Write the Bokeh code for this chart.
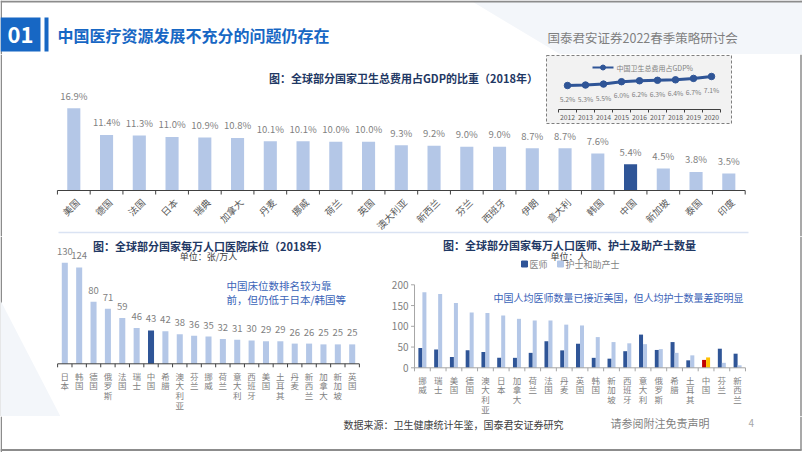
import numpy as np
from math import pi
from bokeh.plotting import figure
from bokeh.models import Range1d
from bokeh.layouts import column, row
from bokeh.core.properties import value
from bokeh.embed import file_html
from bokeh.resources import INLINE

# ---------------- data ----------------
gdp_countries = ["美国", "德国", "法国", "日本", "瑞典", "加拿大", "丹麦", "挪威", "荷兰", "英国",
                 "澳大利亚", "新西兰", "芬兰", "西班牙", "伊朗", "意大利", "韩国", "中国", "新加坡", "泰国", "印度"]
gdp_share = [16.9, 11.4, 11.3, 11.0, 10.9, 10.8, 10.1, 10.1, 10.0, 10.0,
             9.3, 9.2, 9.0, 9.0, 8.7, 8.7, 7.6, 5.4, 4.5, 3.8, 3.5]

cn_years = [2012, 2013, 2014, 2015, 2016, 2017, 2018, 2019, 2020]
cn_gdp_share = [5.2, 5.3, 5.5, 6.0, 6.2, 6.3, 6.4, 6.7, 7.1]

bed_countries = ["日本", "韩国", "德国", "俄罗斯", "法国", "瑞士", "中国", "希腊", "澳大利亚", "芬兰", "挪威",
                 "荷兰", "意大利", "西班牙", "美国", "土耳其", "丹麦", "新西兰", "加拿大", "新加坡", "英国"]
beds_per_10k = [130, 124, 80, 71, 59, 46, 43, 42, 38, 36, 35, 32, 31, 30, 29, 29, 26, 26, 25, 25, 25]

staff_countries = ["挪威", "瑞士", "美国", "德国", "澳大利亚", "日本", "加拿大", "荷兰", "法国", "丹麦", "英国",
                   "韩国", "新加坡", "西班牙", "意大利", "俄罗斯", "希腊", "土耳其", "中国", "芬兰", "新西兰"]
doctors_per_10k = [48, 44, 26, 42, 38, 24, 24, 36, 64, 42, 58, 24, 22, 40, 80, 43, 62, 18, 19, 46, 34]
nurses_per_10k = [182, 178, 156, 133, 132, 126, 118, 114, 114, 104, 102, 74, 62, 59, 57, 45, 36, 30, 25, 12, 6]
staff_ticks = [0, 50, 100, 150, 200]

# ---------------- styles ----------------
FONT = value("Noto Sans CJK SC")
LIGHT = "#B4C7E7"
DARK = "#2F5597"
NAVY = "#1F3864"
GRAY = "#7F7F7F"
AXIS = "#595959"
NOTE = "#3B64B8"
HBLUE = "#1767C4"
FRAME = "#8C8C8C"
PAGE_W, PAGE_H = 802, 452


def mk(X0, Y0, W, H, xr=None, yr=None, extra_x=None, extra_y=None):
    if xr is None:
        xr = Range1d(X0, X0 + W)
    if yr is None:
        yr = Range1d(Y0 + H, Y0)
    p = figure(width=W, height=H, x_range=xr, y_range=yr, output_backend="svg",
               toolbar_location=None, x_axis_location=None, y_axis_location=None,
               min_border=0)
    ex = {"px": Range1d(X0, X0 + W)}
    ey = {"py": Range1d(Y0 + H, Y0)}
    if extra_x:
        ex.update(extra_x)
    if extra_y:
        ey.update(extra_y)
    p.extra_x_ranges = ex
    p.extra_y_ranges = ey
    p.outline_line_color = None
    p.background_fill_color = "white"
    p.border_fill_color = "white"
    p.xgrid.visible = False
    p.ygrid.visible = False
    # slide frame: left / right edges
    if X0 == 0:
        p.segment(x0=[0.75], y0=[Y0], x1=[0.75], y1=[Y0 + H], line_color=FRAME, line_width=1.5,
                  x_range_name="px", y_range_name="py")
    if X0 + W == PAGE_W:
        p.segment(x0=[800.5], y0=[Y0], x1=[800.5], y1=[min(Y0 + H, 450)], line_color=FRAME,
                  line_width=1.5, x_range_name="px", y_range_name="py")
    return p


def txt(p, x, y, t, size, color, bold=False, align="left", baseline="middle", angle=0,
        xr="px", yr="py", lh=1.2):
    if not isinstance(x, (list, np.ndarray)):
        x, y, t = [x], [y], [t]
    kw = {}
    if xr != "default":
        kw["x_range_name"] = xr
    if yr != "default":
        kw["y_range_name"] = yr
    p.text(x=list(x), y=list(y), text=list(t), text_font=FONT, text_font_size=size,
           text_color=color, text_font_style="bold" if bold else "normal",
           text_align=align, text_baseline=baseline, angle=angle, text_line_height=lh, **kw)


def cat_range(X0, W, first_px, step_px):
    a = -(first_px - X0) / step_px
    return Range1d(a, a + W / step_px)


def val_range(Y0, H, base_px, k):
    lo = -(Y0 + H - base_px) / k
    return Range1d(lo, lo + H / k)


# ---------------- header ----------------
hdr = mk(0, 0, PAGE_W, 54)
hdr.patch(x=[470, 802, 802, 560], y=[0, 0, 54, 54], fill_color="#F3F6FA", line_color=None,
          x_range_name="px", y_range_name="py")
hdr.segment(x0=[0], y0=[1], x1=[PAGE_W], y1=[1], line_color=FRAME, line_width=2,
            x_range_name="px", y_range_name="py")
hdr.quad(left=[0], right=[40], top=[17], bottom=[51], fill_color=HBLUE, line_color=None,
         x_range_name="px", y_range_name="py")
hdr.quad(left=[44], right=[48], top=[17], bottom=[51], fill_color=HBLUE, line_color=None,
         x_range_name="px", y_range_name="py")
txt(hdr, 20, 34, "01", "22px", "white", bold=True, align="center")
txt(hdr, 57, 34.5, "中国医疗资源发展不充分的问题仍存在", "16px", HBLUE, bold=True)
txt(hdr, 547, 37, "国泰君安证券2022春季策略研讨会", "12.5px", GRAY)

# ---------------- top chart ----------------
X0, Y0, W, H = 0, 54, PAGE_W, 182
n1 = len(gdp_countries)
k1 = 4.87
yr_step = 18.0
inset_k = 4.74
ia = cn_years[0] - (567 - X0) / yr_step
ilo = 5.0 - (Y0 + H - 85.95) / inset_k
top = mk(X0, Y0, W, H, xr=cat_range(X0, W, 73.3, 32.75), yr=val_range(Y0, H, 190, k1),
         extra_x={"ix": Range1d(ia, ia + W / yr_step)},
         extra_y={"iy": Range1d(ilo, ilo + H / inset_k)})
idx1 = list(range(n1))
cols1 = [DARK if c == "中国" else LIGHT for c in gdp_countries]
top.vbar(x=idx1, top=gdp_share, width=0.4, fill_color=cols1, line_color=None)
txt(top, idx1, [v + 12.5 / k1 for v in gdp_share], [f"{v:.1f}%" for v in gdp_share],
    "9.5px", GRAY, align="center", xr="default", yr="default")
txt(top, [i + 0.12 for i in idx1], [-10 / k1] * n1, gdp_countries, "9.5px", AXIS,
    align="right", angle=pi / 4, xr="default", yr="default")
edges1 = list(np.arange(n1 + 1) - 0.5)
top.segment(x0=[-0.5], y0=[0], x1=[n1 - 0.5], y1=[0], line_color="#404040", line_width=1)
top.segment(x0=edges1, y0=[0] * len(edges1), x1=edges1, y1=[-4 / k1] * len(edges1),
            line_color="#404040", line_width=1)
txt(top, 403, 77, "图：全球部分国家卫生总费用占GDP的比重（2018年）", "11px", NAVY, bold=True, align="center")
top.segment(x0=[58], y0=[232], x1=[748], y1=[232], line_color="#DAE3F3", line_width=1.5,
            x_range_name="px", y_range_name="py")

# inset
top.quad(left=[546], right=[731], top=[55], bottom=[123], fill_color="#F2F2F2",
         line_color="#7F7F7F", line_dash="3 2", line_width=1, x_range_name="px", y_range_name="py")
top.line(x=[592, 613], y=[67, 67], line_color=DARK, line_width=2, x_range_name="px", y_range_name="py")
top.scatter(x=[602.5], y=[67], size=5, color=DARK, x_range_name="px", y_range_name="py")
txt(top, 616, 67, "中国卫生总费用占GDP%", "7px", GRAY)
top.line(x=cn_years, y=cn_gdp_share, line_color=DARK, line_width=3,
         x_range_name="ix", y_range_name="iy")
top.scatter(x=cn_years, y=cn_gdp_share, size=6.5, color=DARK, x_range_name="ix", y_range_name="iy")
txt(top, cn_years, [v - 13.5 / inset_k for v in cn_gdp_share], [f"{v:.1f}%" for v in cn_gdp_share],
    "6.8px", GRAY, align="center", xr="ix", yr="iy")
yedges = [y - 0.5 for y in cn_years] + [cn_years[-1] + 0.5]
top.segment(x0=[yedges[0]], y0=[109], x1=[yedges[-1]], y1=[109], line_color="#404040",
            x_range_name="ix", y_range_name="py")
top.segment(x0=yedges, y0=[109] * len(yedges), x1=yedges, y1=[112] * len(yedges),
            line_color="#404040", x_range_name="ix", y_range_name="py")
txt(top, cn_years, [117] * len(cn_years), [str(y) for y in cn_years], "6.8px", AXIS,
    align="center", xr="ix", yr="py")

# ---------------- bottom-left: beds ----------------
X0, Y0, W, H = 0, 236, 378, 180
n2 = len(bed_countries)
k2 = 0.777
bl = mk(X0, Y0, W, H, xr=cat_range(X0, W, 64.3, 14.37), yr=val_range(Y0, H, 363.3, k2))
bl.patch(x=[0, 60, 0], y=[300, 416, 416], fill_color="#F3F6FA", line_color=None,
         x_range_name="px", y_range_name="py")
idx2 = list(range(n2))
cols2 = [DARK if c == "中国" else LIGHT for c in bed_countries]
bl.vbar(x=idx2, top=beds_per_10k, width=0.42, fill_color=cols2, line_color=None)
txt(bl, idx2, [v + 11.5 / k2 for v in beds_per_10k], [str(v) for v in beds_per_10k],
    "9.5px", GRAY, align="center", xr="default", yr="default")
txt(bl, idx2, [-6 / k2] * n2, ["\n".join(c) for c in bed_countries], "8.5px", GRAY,
    align="center", baseline="top", xr="default", yr="default", lh=0.8)
edges2 = list(np.arange(n2 + 1) - 0.5)
bl.segment(x0=[-0.5], y0=[0], x1=[n2 - 0.5], y1=[0], line_color="#404040")
bl.segment(x0=edges2, y0=[0] * len(edges2), x1=edges2, y1=[-3.5 / k2] * len(edges2),
           line_color="#404040")
txt(bl, 210, 245, "图：全球部分国家每万人口医院床位（2018年）", "11px", NAVY, bold=True, align="center")
txt(bl, 208, 255.5, "单位：张/万人", "9px", "#404040", align="center")
txt(bl, 226, 285, "中国床位数排名较为靠", "10.5px", NOTE)
txt(bl, 226, 298.5, "前，但仍低于日本/韩国等", "10.5px", NOTE)

# ---------------- bottom-right: doctors / nurses ----------------
X0, Y0, W, H = 378, 236, PAGE_W - 378, 180
n3 = len(staff_countries)
k3 = 0.415
step3 = 15.76
br = mk(X0, Y0, W, H, xr=cat_range(X0, W, 421.9, step3), yr=val_range(Y0, H, 367.3, k3))
idx3 = np.arange(n3)
dcol = ["#C00000" if c == "中国" else DARK for c in staff_countries]
ncol = ["#FFC000" if c == "中国" else LIGHT for c in staff_countries]
br.vbar(x=list(idx3 - 0.127), top=doctors_per_10k, width=0.254, fill_color=dcol, line_color=None)
br.vbar(x=list(idx3 + 0.127), top=nurses_per_10k, width=0.254, fill_color=ncol, line_color=None)
edges3 = list(np.arange(n3 + 1) - 0.5)
br.segment(x0=[-0.5], y0=[0], x1=[n3 - 0.5], y1=[0], line_color="#A6A6A6")
br.segment(x0=edges3, y0=[0] * len(edges3), x1=edges3, y1=[-3.5 / k3] * len(edges3),
           line_color="#A6A6A6")
br.segment(x0=[-0.5], y0=[staff_ticks[0]], x1=[-0.5], y1=[staff_ticks[-1]], line_color="#A6A6A6")
br.segment(x0=[-0.5 - 3.5 / step3] * len(staff_ticks), y0=staff_ticks, x1=[-0.5] * len(staff_ticks),
           y1=staff_ticks, line_color="#A6A6A6")
txt(br, [-0.5 - 6 / step3] * len(staff_ticks), staff_ticks, [str(t) for t in staff_ticks], "10px", GRAY,
    align="right", xr="default", yr="default")
txt(br, list(idx3), [-6 / k3] * n3, ["\n".join(c) for c in staff_countries], "8.5px", GRAY,
    align="center", baseline="top", xr="default", yr="default", lh=0.8)
txt(br, 569, 244, "图：全球部分国家每万人口医师、护士及助产士数量", "11px", NAVY, bold=True, align="center")
txt(br, 568, 255.5, "单位：人", "9px", "#404040", align="center")
br.scatter(x=[524], y=[263.5], marker="square", size=6, color=DARK, x_range_name="px", y_range_name="py")
txt(br, 529, 263.5, "医师", "9px", GRAY)
br.scatter(x=[560], y=[263.5], marker="square", size=6, color=LIGHT, x_range_name="px", y_range_name="py")
txt(br, 565, 263.5, "护士和助产士", "9px", GRAY)
txt(br, 493, 297, "中国人均医师数量已接近美国，但人均护士数量差距明显", "10px", NOTE)

# ---------------- footer ----------------
ftr = mk(0, 416, PAGE_W, 36)
ftr.segment(x0=[0], y0=[449.5], x1=[801], y1=[449.5], line_color=FRAME, line_width=2,
            x_range_name="px", y_range_name="py")
txt(ftr, 343, 423.5, "数据来源：卫生健康统计年鉴，国泰君安证券研究", "10px", "#404040")
txt(ftr, 610, 422.5, "请参阅附注免责声明", "11px", GRAY)
txt(ftr, 748, 422.5, "4", "10px", "#A6A6A6")

layout = column(hdr, top, row(bl, br), ftr)
open("out.html", "w").write(file_html(layout, INLINE))
